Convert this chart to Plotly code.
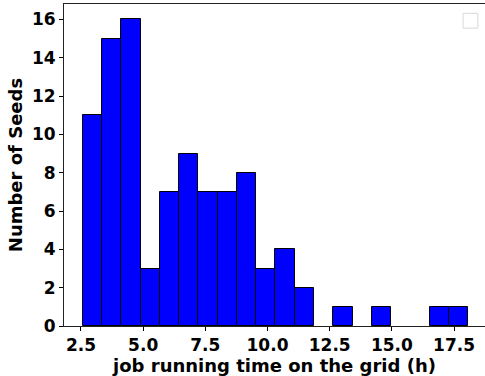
import numpy as np
import plotly.graph_objects as go

# histogram data
counts = [11, 15, 16, 3, 7, 9, 7, 7, 8, 3, 4, 2, 0, 1, 0, 1, 0, 0, 1, 1]
data_min = 2.57
data_max = 18.07
x_label = "job running time on the grid (h)"
y_label = "Number of Seeds"
x_ticks = [2.5, 5.0, 7.5, 10.0, 12.5, 15.0, 17.5]
y_ticks = [0, 2, 4, 6, 8, 10, 12, 14, 16]

edges = np.linspace(data_min, data_max, len(counts) + 1)
centers = (edges[:-1] + edges[1:]) / 2
widths = np.diff(edges)
bar_heights = [c if c > 0 else None for c in counts]

fig = go.Figure()
fig.add_trace(go.Bar(
    x=centers, y=bar_heights, width=widths,
    marker=dict(color="#0000ff", line=dict(color="black", width=1)),
    showlegend=False,
))

tick_font = dict(family="DejaVu Sans", size=17, color="black")
title_font = dict(family="DejaVu Sans", size=18, color="black")
fig.update_layout(
    width=485, height=376,
    margin=dict(l=64, r=0, t=4, b=50),
    plot_bgcolor="white", paper_bgcolor="white",
    font=tick_font,
    bargap=0,
    xaxis=dict(
        range=[1.817, 18.745],
        tickvals=x_ticks, ticktext=[f"<b>{v:.1f}</b>" for v in x_ticks],
        tickfont=tick_font,
        ticks="outside", ticklen=4, tickcolor="black", tickwidth=1,
        showline=True, linecolor="#222", linewidth=1, mirror=True,
        showgrid=False, zeroline=False,
        title=dict(text=f"<b>{x_label}</b>", font=title_font, standoff=2),
    ),
    yaxis=dict(
        range=[0, 16.8],
        tickvals=y_ticks, ticktext=[f"<b>{v}</b>" for v in y_ticks],
        tickfont=tick_font,
        ticks="outside", ticklen=4, tickcolor="black", tickwidth=1,
        showline=True, linecolor="#222", linewidth=1,
        showgrid=False, zeroline=False,
        title=dict(text=f"<b>{y_label}</b>", font=title_font, standoff=4),
    ),
    shapes=[dict(
        type="rect", xref="paper", yref="paper",
        x0=0.948, x1=0.983, y0=0.925, y1=0.971,
        line=dict(color="#d8d8d8", width=1), fillcolor="white",
    )],
)

fig.write_html("out.html")
